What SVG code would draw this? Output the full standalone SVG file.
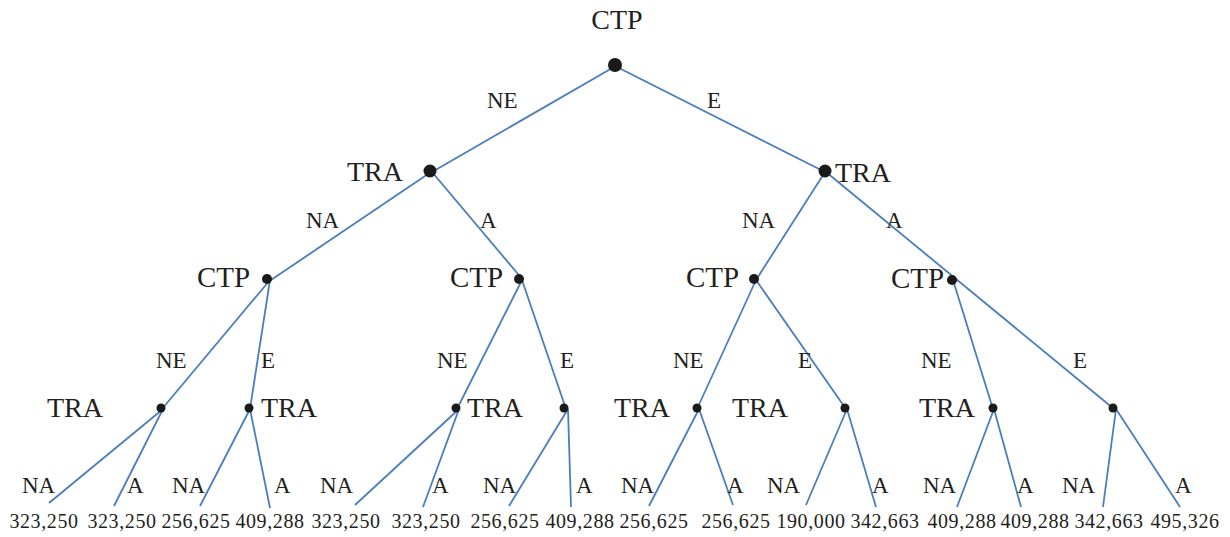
<svg xmlns="http://www.w3.org/2000/svg" width="1230" height="537" viewBox="0 0 1230 537">
<style>
.n{font-family:"Liberation Serif","Times New Roman",serif;fill:#231f20;font-size:28px}
.c{font-size:29px}
.e{font-family:"Liberation Serif","Times New Roman",serif;fill:#231f20;font-size:23px}
.v{font-family:"Liberation Serif","Times New Roman",serif;fill:#231f20;font-size:20px;letter-spacing:0.6px;text-anchor:middle}
.d{fill:#1a1a1a}
#edges line{stroke:#4a7ebb;stroke-width:1.8;fill:none}
</style>
<rect width="1230" height="537" fill="#ffffff"/>
<g id="edges">
<line x1="614" y1="67" x2="432" y2="172"/>
<line x1="617" y1="67" x2="827" y2="173"/>
<line x1="431" y1="172" x2="271" y2="280"/>
<line x1="432" y1="172" x2="523" y2="280"/>
<line x1="825" y1="172" x2="756" y2="280"/>
<line x1="826" y1="172" x2="1114" y2="409"/>
<line x1="270" y1="280" x2="162" y2="409"/>
<line x1="270" y1="280" x2="250" y2="409"/>
<line x1="522" y1="280" x2="457" y2="409"/>
<line x1="522" y1="280" x2="566" y2="409"/>
<line x1="756" y1="280" x2="697" y2="409"/>
<line x1="756" y1="280" x2="846" y2="409"/>
<line x1="953" y1="280" x2="993" y2="409"/>
<line x1="163" y1="409" x2="49" y2="503"/>
<line x1="163" y1="409" x2="114" y2="506"/>
<line x1="250" y1="409" x2="200" y2="506"/>
<line x1="250" y1="409" x2="270" y2="508"/>
<line x1="459" y1="409" x2="355" y2="505"/>
<line x1="459" y1="409" x2="423" y2="507"/>
<line x1="568" y1="409" x2="509" y2="506"/>
<line x1="568" y1="409" x2="571" y2="507"/>
<line x1="699" y1="409" x2="649" y2="506"/>
<line x1="699" y1="409" x2="733" y2="505"/>
<line x1="847" y1="409" x2="806" y2="505"/>
<line x1="847" y1="409" x2="876" y2="507"/>
<line x1="994" y1="409" x2="957" y2="507"/>
<line x1="994" y1="409" x2="1021" y2="507"/>
<line x1="1116" y1="409" x2="1103" y2="507"/>
<line x1="1116" y1="409" x2="1180" y2="507"/>
</g>
<g id="n0"><circle class="d" cx="615" cy="65" r="7"/><text class="n" x="617" y="29" text-anchor="middle" font-size="30">CTP</text></g>
<g id="n1"><circle class="d" cx="430" cy="171" r="6.5"/><text class="n" x="347" y="181">TRA</text></g>
<g id="n2"><circle class="d" cx="825" cy="171" r="6.5"/><text class="n" x="835" y="182">TRA</text></g>
<g id="n3"><circle class="d" cx="267" cy="279" r="5"/><text class="n c" x="197" y="287">CTP</text></g>
<g id="n4"><circle class="d" cx="519" cy="279" r="5"/><text class="n c" x="450" y="287">CTP</text></g>
<g id="n5"><circle class="d" cx="754" cy="279" r="5"/><text class="n c" x="686" y="287">CTP</text></g>
<g id="n6"><circle class="d" cx="952" cy="280" r="5"/><text class="n c" x="891" y="288">CTP</text></g>
<g id="n7"><circle class="d" cx="161" cy="408" r="4.5"/><text class="n" x="47" y="417">TRA</text></g>
<g id="n8"><circle class="d" cx="249" cy="408" r="4.5"/><text class="n" x="261" y="417">TRA</text></g>
<g id="n9"><circle class="d" cx="456" cy="408" r="4.5"/><text class="n" x="467" y="417">TRA</text></g>
<g id="n10"><circle class="d" cx="564" cy="408" r="4.5"/></g>
<g id="n11"><circle class="d" cx="697" cy="408" r="4.5"/><text class="n" x="614" y="417">TRA</text></g>
<g id="n12"><circle class="d" cx="845" cy="408" r="4.5"/><text class="n" x="732" y="417">TRA</text></g>
<g id="n13"><circle class="d" cx="993" cy="408" r="4.5"/><text class="n" x="919" y="417">TRA</text></g>
<g id="n14"><circle class="d" cx="1113" cy="408" r="4.5"/></g>
<g id="edge-labels">
<text class="e" x="487" y="108">NE</text>
<text class="e" x="707" y="108">E</text>
<text class="e" x="306" y="228">NA</text>
<text class="e" x="480" y="228">A</text>
<text class="e" x="742" y="228">NA</text>
<text class="e" x="886" y="228">A</text>
<text class="e" x="156" y="368">NE</text>
<text class="e" x="261" y="368">E</text>
<text class="e" x="437" y="368">NE</text>
<text class="e" x="560" y="368">E</text>
<text class="e" x="673" y="368">NE</text>
<text class="e" x="798" y="368">E</text>
<text class="e" x="921" y="368">NE</text>
<text class="e" x="1073" y="368">E</text>
<text class="e" x="22" y="493">NA</text>
<text class="e" x="127" y="493">A</text>
<text class="e" x="172" y="493">NA</text>
<text class="e" x="274" y="493">A</text>
<text class="e" x="320" y="493">NA</text>
<text class="e" x="432" y="493">A</text>
<text class="e" x="483" y="493">NA</text>
<text class="e" x="576" y="493">A</text>
<text class="e" x="621" y="493">NA</text>
<text class="e" x="727" y="493">A</text>
<text class="e" x="767" y="493">NA</text>
<text class="e" x="872" y="493">A</text>
<text class="e" x="923" y="493">NA</text>
<text class="e" x="1017" y="493">A</text>
<text class="e" x="1062" y="493">NA</text>
<text class="e" x="1175" y="493">A</text>
</g>
<g id="payoffs">
<text class="v" x="44" y="528">323,250</text>
<text class="v" x="122" y="528">323,250</text>
<text class="v" x="196" y="528">256,625</text>
<text class="v" x="270" y="528">409,288</text>
<text class="v" x="346" y="528">323,250</text>
<text class="v" x="426" y="528">323,250</text>
<text class="v" x="505" y="528">256,625</text>
<text class="v" x="580" y="528">409,288</text>
<text class="v" x="654" y="528">256,625</text>
<text class="v" x="736" y="528">256,625</text>
<text class="v" x="811" y="528">190,000</text>
<text class="v" x="885" y="528">342,663</text>
<text class="v" x="962" y="528">409,288</text>
<text class="v" x="1035" y="528">409,288</text>
<text class="v" x="1109" y="528">342,663</text>
<text class="v" x="1185" y="528">495,326</text>
</g>
</svg>
